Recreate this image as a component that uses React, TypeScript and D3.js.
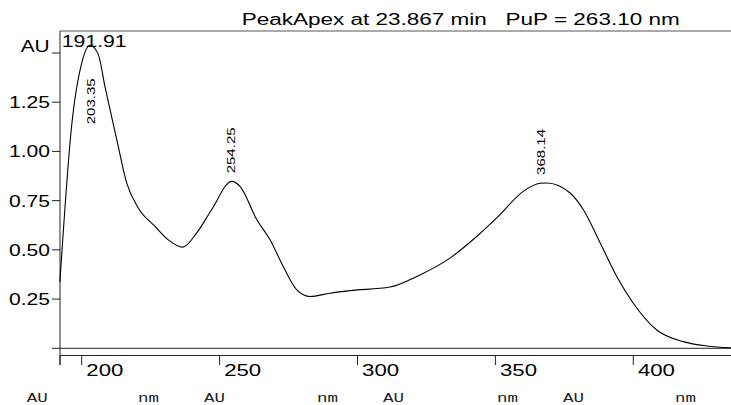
import React from "react";
import * as d3 from "d3";

const wavelengths = [192.1, 196.4, 200.2, 203.0, 206.0, 208.4, 212.7, 216.3, 220.5, 226.6, 231.4, 236.6, 241.7, 247.1, 254.4, 257.4, 263.5, 268.3, 273.1, 278.0, 282.8, 290.0, 297.3, 311.8, 321.5, 333.5, 343.2, 350.5, 360.1, 366.2, 368.6, 377.1, 381.9, 388.0, 394.0, 400.0, 408.5, 418.1, 426.6, 435.4];
const absorbance = [0.337, 1.137, 1.459, 1.539, 1.493, 1.332, 1.061, 0.840, 0.713, 0.619, 0.551, 0.514, 0.586, 0.704, 0.848, 0.823, 0.653, 0.551, 0.415, 0.297, 0.263, 0.280, 0.293, 0.311, 0.365, 0.458, 0.568, 0.662, 0.797, 0.838, 0.840, 0.789, 0.704, 0.535, 0.365, 0.229, 0.093, 0.034, 0.012, 0.003];

const xTicks = [200, 250, 300, 350, 400];
const yTicks = [0.25, 0.5, 0.75, 1.0, 1.25];
const yTickLabels = ["0.25", "0.50", "0.75", "1.00", "1.25"];
const yTop = 1.5;
const yUnit = "AU";

const peakNm = [203.35, 254.25, 368.14];
const peakLabels = ["203.35", "254.25", "368.14"];
const peakAbs = [1.539, 0.848, 0.840];

const title = "PeakApex at 23.867 min   PuP = 263.10 nm";
const cornerLabel = "191.91";
const footerLabels = ["AU", "nm", "AU", "nm", "AU", "nm", "AU", "nm"];
const footerX = [26.7, 138, 204, 317, 383, 497, 563, 675];

export default function App() {
  const W = 731, H = 405;
  const x = d3.scaleLinear().domain([200, 400]).range([81.7, 633.3]);
  const y = d3.scaleLinear().domain([0, 1.5]).range([348.3, 53]);
  const pts: [number, number][] = wavelengths.map((w, i) => [w, absorbance[i]]);
  const line = d3.line<[number, number]>()
    .x(d => x(d[0]))
    .y(d => y(d[1]))
    .curve(d3.curveMonotoneX);
  const font = "'Liberation Sans', Arial, sans-serif";
  const mono = "'Courier New', 'Liberation Mono', monospace";
  const axisLeft = 60;
  const xAxisY = 355.5;
  return (
    <svg width={W} height={H} style={{ position: "absolute", left: 0, top: 0, background: "#fff" }}>
      <rect x={0} y={0} width={W} height={H} fill="#fff" />
      {/* title */}
      <text x={241.7} y={25} fontFamily={font} fontSize={16} textLength={438} lengthAdjust="spacingAndGlyphs" fill="#000" style={{ whiteSpace: "pre" }}>{title}</text>
      {/* top border */}
      <line x1={axisLeft} x2={W} y1={31} y2={31} stroke="#555" strokeWidth={1} />
      {/* left axis */}
      <line x1={axisLeft} x2={axisLeft} y1={31} y2={365} stroke="#222" strokeWidth={1} />
      {/* baseline zero */}
      <line x1={52} x2={W} y1={y(0)} y2={y(0)} stroke="#222" strokeWidth={1} />
      {/* x axis line */}
      <line x1={axisLeft} x2={W} y1={xAxisY} y2={xAxisY} stroke="#222" strokeWidth={1} />
      {/* y ticks */}
      {yTicks.map((t, i) => (
        <g key={"yt" + i}>
          <line x1={52} x2={axisLeft} y1={y(t)} y2={y(t)} stroke="#222" strokeWidth={1} />
          <text x={9} y={y(t) + 6} fontFamily={font} fontSize={16} textLength={41} lengthAdjust="spacingAndGlyphs" fill="#000">{yTickLabels[i]}</text>
        </g>
      ))}
      <line x1={52} x2={axisLeft} y1={y(yTop)} y2={y(yTop)} stroke="#222" strokeWidth={1} />
      <text x={20.7} y={51.7} fontFamily={font} fontSize={16} textLength={29} lengthAdjust="spacingAndGlyphs" fill="#000">{yUnit}</text>
      {/* x ticks */}
      <line x1={axisLeft} x2={axisLeft} y1={xAxisY} y2={365} stroke="#222" strokeWidth={1} />
      {xTicks.map((t, i) => (
        <g key={"xt" + i}>
          <line x1={x(t)} x2={x(t)} y1={xAxisY} y2={365} stroke="#222" strokeWidth={1} />
          <text x={x(t) + 4.6} y={376} fontFamily={font} fontSize={16} textLength={37} lengthAdjust="spacingAndGlyphs" fill="#000">{String(t)}</text>
        </g>
      ))}
      {/* spectrum */}
      <path d={line(pts) || ""} fill="none" stroke="#000" strokeWidth={1.1} />
      {/* corner label */}
      <text x={61.7} y={46.7} fontFamily={font} fontSize={16} textLength={65} lengthAdjust="spacingAndGlyphs" fill="#000">{cornerLabel}</text>
      {/* peak labels */}
      {peakNm.map((p, i) => {
        const px = i === 2 ? x(p) - 0.5 : x(p) + 4;
        const py = i === 0 ? 124.3 : y(peakAbs[i]) - 8;
        return (
          <text key={"pk" + i} transform={`translate(${px},${py}) rotate(-90)`} fontFamily={font} fontSize={11} textLength={46} lengthAdjust="spacingAndGlyphs" fill="#000">{peakLabels[i]}</text>
        );
      })}
      {/* footer */}
      {footerLabels.map((l, i) => (
        <text key={"ft" + i} x={footerX[i]} y={401.5} fontFamily={mono} fontSize={12} textLength={21} lengthAdjust="spacingAndGlyphs" fill="#222">{l}</text>
      ))}
    </svg>
  );
}
